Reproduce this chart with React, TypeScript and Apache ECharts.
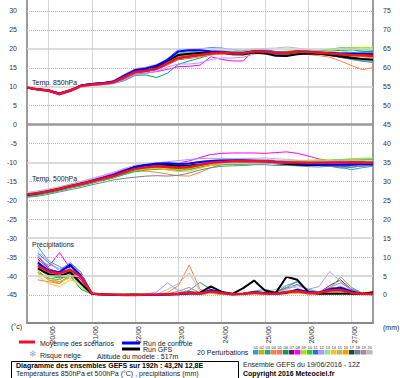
import React, { useEffect, useRef } from 'react';
import * as echarts from 'echarts';

// 6-hourly steps of the GEFS run 19/06/2016 12Z (192h)
const timeSteps = [
  '19/06 12Z', '19/06 18Z',
  '20/06 00Z', '20/06 06Z', '20/06 12Z', '20/06 18Z',
  '21/06 00Z', '21/06 06Z', '21/06 12Z', '21/06 18Z',
  '22/06 00Z', '22/06 06Z', '22/06 12Z', '22/06 18Z',
  '23/06 00Z', '23/06 06Z', '23/06 12Z', '23/06 18Z',
  '24/06 00Z', '24/06 06Z', '24/06 12Z', '24/06 18Z',
  '25/06 00Z', '25/06 06Z', '25/06 12Z', '25/06 18Z',
  '26/06 00Z', '26/06 06Z', '26/06 12Z', '26/06 18Z',
  '27/06 00Z', '27/06 06Z', '27/06 12Z',
];

const leftTicks = [30, 25, 20, 15, 10, 5, 0, -5, -10, -15, -20, -25, -30, -35, -40, -45];
const solidLevels = [20, 10, -10, -30, -40];
const panelDivider = 0;

const pertNames = ['01','02','03','04','05','06','07','08','09','10','11','12','13','14','15','16','17','18','19','20'];
const pertColors = ['#3a9fbf', '#c8b400', '#2f9f8f', '#ff7f40', '#ff7070', '#00a060', '#900090', '#ff00ff', '#99ee00', '#33cc33',
  '#3366ff', '#aa99ff', '#88ee88', '#ffbb33', '#bbbb55', '#ff9900', '#224444', '#668899', '#aa8899', '#bbbbbb'];

// Temperature 850 hPa (°C)
const t850Mean = [9.8, 9.3, 9.0, 8.1, 9.0, 10.2, 10.6, 10.8, 11.2, 12.5, 13.9, 14.2, 14.8, 16.2, 17.6, 18.0, 18.4, 18.8, 19.0, 18.8, 18.8, 19.3, 19.3, 18.9, 18.9, 19.3, 19.2, 19.0, 18.8, 18.6, 18.4, 18.3, 18.1];
const t850Control = [9.8, 9.3, 9.0, 8.2, 9.1, 10.3, 10.7, 10.9, 11.4, 12.9, 14.4, 14.8, 15.6, 17.1, 19.3, 19.6, 19.6, 19.3, 19.2, 19.0, 19.0, 19.4, 19.3, 18.8, 18.8, 19.2, 19.1, 19.0, 18.9, 18.8, 18.7, 18.7, 18.6];
const t850Gfs = [9.8, 9.3, 9.0, 8.1, 9.0, 10.3, 10.7, 10.9, 11.3, 12.7, 14.1, 14.5, 15.2, 16.7, 18.4, 18.7, 18.9, 19.0, 19.0, 18.6, 18.5, 19.0, 18.8, 18.2, 18.1, 18.6, 18.8, 18.7, 18.4, 18.0, 17.6, 17.3, 17.1];
const t850Pert = [
  [9.8, 9.4, 9.1, 8.3, 9.1, 10.3, 10.7, 11.0, 11.5, 13.0, 14.4, 14.8, 15.3, 16.8, 18.5, 18.8, 19.0, 19.2, 19.3, 19.0, 18.9, 19.4, 19.2, 18.7, 18.6, 19.0, 18.9, 18.6, 18.2, 17.8, 17.3, 16.9, 16.7],
  [9.7, 9.2, 8.9, 8.0, 8.8, 10.0, 10.5, 10.7, 11.0, 12.2, 13.6, 14.0, 14.6, 15.9, 17.2, 17.6, 18.2, 18.7, 19.1, 19.0, 19.1, 19.5, 19.6, 19.2, 19.3, 19.6, 19.4, 19.3, 19.2, 19.0, 18.8, 18.6, 18.4],
  [9.9, 9.4, 9.1, 8.2, 9.2, 10.4, 10.8, 11.0, 11.4, 12.9, 14.2, 14.6, 15.4, 16.9, 18.8, 19.2, 19.4, 19.6, 19.5, 19.1, 19.0, 19.5, 19.5, 19.0, 19.0, 19.4, 19.4, 19.2, 19.0, 18.9, 19.0, 19.2, 19.3],
  [9.8, 9.3, 9.0, 8.2, 9.1, 10.3, 10.7, 10.9, 11.3, 12.8, 14.1, 14.5, 15.0, 16.5, 18.0, 18.3, 18.6, 18.9, 19.0, 18.7, 18.6, 19.1, 19.2, 18.6, 18.4, 18.7, 18.5, 18.2, 17.8, 16.8, 15.6, 14.5, 15.0],
  [9.8, 9.3, 8.9, 8.0, 8.9, 10.1, 10.5, 10.8, 11.2, 12.4, 13.8, 14.1, 14.7, 16.0, 17.3, 17.8, 18.3, 18.8, 19.0, 18.9, 19.0, 19.4, 19.3, 18.9, 19.0, 19.5, 19.4, 19.1, 18.9, 18.7, 18.6, 18.8, 18.7],
  [9.7, 9.1, 8.8, 7.9, 8.8, 10.0, 10.4, 10.6, 10.9, 11.6, 13.0, 13.1, 12.4, 13.6, 15.9, 16.8, 17.6, 18.4, 18.8, 18.6, 18.7, 19.3, 19.4, 19.1, 19.2, 19.6, 19.5, 19.4, 19.4, 19.6, 19.7, 19.4, 19.2],
  [9.8, 9.2, 8.9, 8.0, 8.9, 10.1, 10.5, 10.7, 11.1, 12.3, 13.7, 14.0, 14.5, 15.8, 17.2, 17.5, 18.0, 18.5, 18.7, 18.5, 18.6, 19.0, 19.1, 18.7, 18.8, 19.1, 19.0, 18.8, 18.6, 18.4, 18.5, 18.9, 19.0],
  [9.7, 9.1, 8.7, 7.8, 8.7, 9.9, 10.3, 10.6, 10.9, 12.0, 13.3, 13.6, 14.0, 14.6, 15.3, 15.4, 15.7, 17.9, 17.2, 16.8, 16.8, 19.7, 19.6, 19.2, 19.1, 19.4, 19.3, 19.1, 18.9, 18.8, 18.7, 18.5, 18.4],
  [9.8, 9.3, 9.0, 8.1, 9.0, 10.2, 10.6, 10.8, 11.2, 12.6, 14.0, 14.3, 14.9, 16.3, 17.8, 18.2, 18.7, 19.2, 19.4, 19.2, 19.2, 19.6, 19.6, 19.3, 19.4, 19.7, 19.6, 19.5, 19.6, 19.9, 20.3, 20.4, 20.3],
  [9.9, 9.4, 9.1, 8.2, 9.1, 10.3, 10.7, 10.9, 11.3, 12.7, 14.0, 14.4, 15.1, 16.5, 18.1, 18.5, 18.9, 19.2, 19.4, 19.1, 19.0, 19.4, 19.4, 19.0, 19.1, 19.5, 19.5, 19.5, 19.9, 20.3, 20.2, 19.8, 19.6],
  [9.9, 9.4, 9.1, 8.3, 9.2, 10.4, 10.8, 11.0, 11.5, 13.1, 14.5, 14.9, 15.7, 17.4, 19.8, 19.9, 20.0, 20.3, 20.2, 19.8, 19.6, 19.9, 19.8, 19.3, 19.2, 19.5, 19.4, 19.1, 18.9, 18.6, 18.4, 18.2, 18.0],
  [9.7, 9.1, 8.8, 7.9, 8.8, 9.9, 10.3, 10.5, 10.8, 11.8, 13.2, 13.5, 14.1, 15.2, 16.0, 16.0, 16.3, 17.2, 17.6, 17.6, 17.8, 18.6, 19.0, 18.7, 18.8, 19.2, 19.1, 18.9, 18.7, 18.4, 18.2, 18.0, 17.8],
  [9.8, 9.3, 9.0, 8.1, 9.0, 10.2, 10.6, 10.8, 11.2, 12.5, 13.9, 14.2, 14.8, 16.1, 17.5, 17.9, 18.3, 18.7, 19.0, 18.8, 18.8, 19.2, 19.2, 18.8, 18.9, 19.3, 19.2, 19.0, 18.9, 19.1, 19.5, 20.0, 20.2],
  [9.8, 9.2, 8.9, 8.0, 8.9, 10.1, 10.5, 10.8, 11.1, 12.4, 13.8, 14.1, 14.6, 15.9, 17.3, 17.6, 18.0, 18.4, 18.6, 18.4, 18.5, 19.0, 19.2, 18.8, 18.7, 19.1, 19.0, 18.6, 18.3, 18.1, 18.0, 17.9, 17.7],
  [9.8, 9.3, 9.0, 8.1, 9.0, 10.2, 10.6, 10.9, 11.3, 12.7, 14.1, 14.4, 15.0, 16.4, 17.9, 18.2, 18.6, 19.0, 19.1, 18.9, 18.9, 19.3, 19.3, 18.8, 18.8, 19.2, 19.1, 18.9, 18.7, 18.6, 18.7, 18.9, 18.9],
  [9.8, 9.3, 8.9, 8.0, 8.9, 10.1, 10.6, 10.8, 11.2, 12.5, 13.9, 14.3, 14.9, 16.2, 17.7, 18.0, 18.4, 18.9, 19.0, 18.7, 18.6, 19.2, 19.3, 18.9, 18.8, 19.2, 19.0, 18.7, 18.5, 18.3, 18.2, 18.0, 17.6],
  [9.8, 9.3, 9.0, 8.1, 9.0, 10.2, 10.6, 10.8, 11.2, 12.5, 13.8, 14.1, 14.7, 16.0, 17.5, 17.9, 18.3, 18.8, 19.0, 18.8, 18.9, 19.4, 19.5, 19.0, 19.0, 19.4, 19.3, 19.0, 18.7, 18.3, 17.8, 17.4, 17.2],
  [9.8, 9.3, 9.0, 8.1, 9.0, 10.2, 10.6, 10.8, 11.2, 12.6, 14.0, 14.3, 15.0, 16.3, 17.7, 18.1, 18.5, 18.9, 19.1, 18.8, 18.8, 19.3, 19.4, 19.0, 19.0, 19.3, 19.1, 18.8, 18.3, 17.7, 17.2, 16.7, 16.4],
  [9.9, 9.4, 9.1, 8.2, 9.1, 10.4, 10.8, 11.0, 11.5, 13.2, 14.6, 15.1, 15.6, 17.0, 18.4, 18.6, 18.9, 19.1, 19.1, 18.8, 18.8, 19.3, 19.3, 18.9, 19.0, 19.3, 19.2, 19.0, 18.8, 18.6, 18.5, 18.4, 18.2],
  [9.9, 9.4, 9.1, 8.3, 9.2, 10.4, 10.9, 11.1, 11.6, 13.3, 14.8, 15.2, 15.9, 17.2, 18.7, 19.0, 19.3, 19.5, 19.5, 19.4, 19.6, 20.0, 20.1, 20.2, 20.5, 20.2, 19.8, 19.5, 19.2, 18.9, 18.7, 18.6, 18.5],
];

// Temperature 500 hPa (°C)
const t500Mean = [-18.5, -18.1, -17.6, -17.0, -16.3, -15.7, -15.0, -14.3, -13.6, -12.6, -11.7, -11.3, -11.0, -11.2, -11.4, -11.2, -10.6, -10.1, -9.9, -9.7, -9.7, -9.7, -9.7, -9.9, -10.0, -10.0, -10.1, -10.1, -10.1, -10.0, -10.0, -10.1, -10.1];
const t500Control = [-18.5, -18.1, -17.6, -17.0, -16.3, -15.6, -14.9, -14.1, -13.3, -12.2, -11.2, -10.7, -10.3, -10.2, -10.4, -10.3, -9.9, -9.6, -9.5, -9.5, -9.5, -9.6, -9.7, -9.9, -10.1, -10.3, -10.5, -10.6, -10.6, -10.6, -10.5, -10.5, -10.5];
const t500Gfs = [-18.6, -18.2, -17.6, -17.0, -16.3, -15.7, -15.0, -14.2, -13.4, -12.3, -11.2, -10.7, -10.4, -10.6, -10.9, -10.9, -10.4, -10.0, -9.8, -9.7, -9.8, -9.9, -10.0, -10.2, -10.4, -10.6, -10.7, -10.6, -10.4, -10.2, -10.1, -10.1, -10.2];
const t500Pert = [
  [-18.2, -17.8, -17.3, -16.7, -16.0, -15.4, -14.7, -14.0, -13.2, -12.1, -11.2, -10.9, -10.7, -10.9, -11.2, -11.0, -10.5, -10.2, -10.0, -9.9, -9.9, -9.9, -9.8, -10.0, -10.2, -10.4, -10.6, -10.8, -11.0, -11.3, -11.9, -11.4, -11.0],
  [-18.6, -18.2, -17.7, -17.1, -16.4, -15.8, -15.1, -14.4, -13.7, -12.7, -11.8, -11.4, -11.1, -11.3, -11.5, -11.3, -10.8, -10.3, -10.0, -9.8, -9.7, -9.6, -9.6, -9.8, -9.9, -9.9, -10.0, -10.0, -9.9, -9.8, -9.8, -9.9, -10.0],
  [-18.3, -17.9, -17.4, -16.8, -16.1, -15.5, -14.8, -14.1, -13.3, -12.2, -11.3, -10.9, -10.6, -10.7, -10.9, -10.8, -10.3, -9.9, -9.7, -9.5, -9.5, -9.5, -9.5, -9.7, -9.8, -9.9, -10.1, -10.3, -10.5, -10.6, -10.4, -10.2, -10.1],
  [-18.7, -18.3, -17.8, -17.2, -16.5, -15.9, -15.2, -14.5, -13.8, -12.9, -12.2, -12.3, -12.6, -13.1, -13.5, -13.6, -12.6, -11.4, -10.6, -10.2, -10.0, -9.9, -9.9, -10.1, -10.2, -10.2, -10.3, -10.3, -10.2, -10.1, -10.0, -10.1, -10.2],
  [-18.5, -18.1, -17.6, -17.0, -16.3, -15.7, -15.0, -14.3, -13.6, -12.6, -11.7, -11.3, -11.0, -11.2, -11.3, -11.1, -10.5, -10.0, -9.8, -9.6, -9.6, -9.6, -9.6, -9.8, -9.9, -9.9, -10.0, -10.0, -10.0, -9.9, -9.9, -10.0, -10.0],
  [-19.0, -18.6, -18.1, -17.5, -16.8, -16.2, -15.5, -14.8, -14.1, -13.2, -12.4, -12.0, -11.8, -11.9, -12.0, -11.8, -11.2, -10.7, -10.5, -10.4, -10.4, -10.3, -10.2, -10.2, -10.1, -10.0, -9.8, -9.6, -9.5, -9.4, -9.3, -9.2, -9.1],
  [-18.4, -18.0, -17.5, -16.9, -16.2, -15.6, -14.9, -14.2, -13.5, -12.5, -11.6, -11.2, -10.9, -11.0, -11.1, -10.9, -10.3, -9.8, -9.5, -9.3, -9.3, -9.3, -9.4, -9.6, -9.8, -10.0, -10.1, -10.0, -9.9, -9.8, -9.9, -10.0, -10.1],
  [-18.3, -17.9, -17.4, -16.7, -16.0, -15.3, -14.6, -13.8, -12.9, -11.8, -10.9, -10.5, -10.3, -10.2, -10.1, -9.6, -8.7, -7.9, -7.6, -7.5, -7.5, -7.5, -7.6, -7.4, -7.2, -7.6, -8.3, -9.1, -9.5, -9.6, -9.7, -9.8, -9.9],
  [-18.8, -18.4, -17.9, -17.3, -16.6, -16.0, -15.3, -14.6, -13.9, -12.9, -12.1, -11.8, -11.6, -11.8, -11.9, -11.6, -11.0, -10.5, -10.3, -10.1, -10.0, -9.9, -9.8, -9.7, -9.6, -9.5, -9.4, -9.3, -9.3, -9.2, -9.0, -8.9, -8.8],
  [-18.9, -18.5, -18.0, -17.4, -16.7, -16.1, -15.4, -14.7, -14.0, -13.1, -12.3, -11.9, -11.7, -11.9, -12.1, -11.9, -11.3, -10.8, -10.6, -10.5, -10.5, -10.4, -10.3, -10.2, -10.1, -10.0, -9.8, -9.6, -9.5, -9.3, -9.2, -9.2, -9.3],
  [-18.6, -18.2, -17.7, -17.1, -16.4, -15.7, -15.0, -14.3, -13.5, -12.4, -11.4, -10.9, -10.5, -10.5, -10.6, -10.3, -9.8, -9.5, -9.4, -9.4, -9.5, -9.6, -9.7, -9.9, -10.1, -10.2, -10.4, -10.6, -10.8, -11.0, -11.2, -11.0, -10.8],
  [-18.2, -17.8, -17.2, -16.5, -15.8, -15.1, -14.3, -13.5, -12.6, -11.6, -10.8, -10.4, -10.1, -9.8, -9.5, -9.2, -9.0, -8.9, -8.9, -9.0, -9.0, -9.1, -9.2, -9.4, -9.6, -9.8, -10.0, -10.1, -10.2, -10.2, -10.1, -10.1, -10.2],
  [-18.5, -18.1, -17.6, -17.0, -16.3, -15.7, -15.0, -14.3, -13.6, -12.6, -11.8, -11.4, -11.2, -11.4, -11.6, -11.4, -10.8, -10.3, -10.1, -9.9, -9.9, -9.8, -9.8, -9.9, -9.9, -9.8, -9.7, -9.6, -9.5, -9.4, -9.4, -9.5, -9.6],
  [-18.7, -18.3, -17.8, -17.2, -16.5, -15.9, -15.2, -14.5, -13.8, -12.8, -12.0, -11.7, -11.6, -12.0, -12.4, -12.3, -11.5, -10.8, -10.4, -10.2, -10.1, -10.1, -10.0, -10.1, -10.1, -10.2, -10.2, -10.2, -10.1, -10.1, -10.0, -10.0, -10.1],
  [-18.4, -18.0, -17.5, -16.9, -16.2, -15.6, -14.9, -14.2, -13.5, -12.5, -11.6, -11.2, -10.9, -11.1, -11.3, -11.1, -10.6, -10.1, -9.9, -9.7, -9.7, -9.7, -9.8, -10.0, -10.1, -10.1, -10.2, -10.2, -10.1, -10.0, -10.0, -10.1, -10.1],
  [-18.6, -18.2, -17.7, -17.1, -16.4, -15.8, -15.1, -14.4, -13.7, -12.7, -11.9, -11.5, -11.3, -11.5, -11.7, -11.5, -10.9, -10.4, -10.1, -9.9, -9.9, -9.9, -9.9, -10.0, -10.1, -10.2, -10.3, -10.3, -10.3, -10.4, -10.5, -10.5, -10.4],
  [-18.5, -18.1, -17.6, -17.0, -16.3, -15.7, -15.0, -14.3, -13.6, -12.6, -11.7, -11.3, -11.0, -11.2, -11.4, -11.2, -10.7, -10.2, -10.0, -9.8, -9.8, -9.8, -9.8, -10.0, -10.2, -10.4, -10.6, -10.8, -10.9, -10.9, -10.8, -10.6, -10.5],
  [-19.2, -18.9, -18.4, -17.8, -17.2, -16.6, -15.9, -15.3, -14.6, -14.2, -13.9, -13.6, -13.5, -13.6, -13.4, -12.8, -12.0, -11.4, -11.0, -10.9, -10.8, -10.6, -10.6, -10.8, -10.8, -10.9, -11.1, -11.2, -11.0, -11.5, -11.3, -10.9, -10.7],
  [-18.4, -18.0, -17.5, -16.9, -16.2, -15.6, -14.9, -14.2, -13.5, -12.5, -11.6, -11.2, -11.0, -11.1, -11.3, -11.1, -10.5, -10.0, -9.8, -9.6, -9.6, -9.6, -9.6, -9.8, -9.9, -10.0, -10.0, -10.0, -9.9, -9.8, -9.7, -9.7, -9.8],
  [-17.9, -17.5, -17.0, -16.4, -15.7, -15.0, -14.2, -13.4, -12.6, -11.6, -10.8, -10.4, -10.2, -10.3, -10.5, -10.3, -9.8, -9.4, -9.2, -9.0, -8.9, -8.9, -8.8, -9.0, -9.2, -9.4, -9.6, -9.6, -9.5, -9.4, -9.3, -9.1, -9.0],
];

// 6h precipitation (mm), right axis
const precipMean = [null, 7.7, 6.2, 5.7, 6.6, 4.8, 0.4, 0.1, 0.1, 0.0, 0.0, 0.1, 0.1, 0.2, 0.3, 0.6, 0.4, 0.9, 0.5, 0.2, 0.3, 0.6, 0.4, 0.3, 0.8, 1.0, 0.5, 0.5, 1.2, 1.3, 0.6, 0.3, 0.3];
const precipControl = [null, 8.5, 6.5, 6.0, 8.0, 5.0, 0.3, 0.1, 0.0, 0.0, 0.0, 0.0, 0.0, 0.1, 0.2, 0.4, 0.4, 1.3, 0.6, 0.2, 0.3, 0.8, 0.5, 0.3, 0.6, 1.4, 0.8, 0.6, 1.5, 1.9, 1.0, 0.3, 0.2];
const precipGfs = [null, 7.0, 5.5, 5.0, 6.0, 3.0, 0.3, 0.1, 0.0, 0.0, 0.0, 0.0, 0.0, 0.1, 0.3, 0.6, 0.6, 2.3, 0.8, 0.3, 1.8, 3.8, 1.2, 0.5, 4.8, 4.0, 0.8, 0.3, 0.3, 0.3, 0.3, 0.3, 0.7];
const precipPert = [
  [null, 12.8, 9.0, 7.5, 6.0, 3.5, 0.5, 0.1, 0.0, 0.0, 0.0, 0.0, 0.0, 0.0, 0.3, 1.0, 0.2, 0.5, 0.2, 0.0, 0.2, 0.8, 0.5, 0.6, 2.5, 3.5, 1.0, 0.5, 1.5, 2.2, 0.8, 0.2, 0.3],
  [null, 8.0, 6.0, 5.5, 7.0, 5.5, 0.3, 0.0, 0.1, 0.0, 0.0, 0.1, 0.1, 0.1, 0.2, 0.4, 0.3, 1.0, 0.4, 0.1, 0.2, 0.5, 0.3, 0.2, 0.5, 0.8, 0.4, 0.3, 0.8, 1.0, 0.5, 0.2, 0.2],
  [null, 9.0, 5.5, 4.5, 6.5, 4.0, 0.2, 0.0, 0.0, 0.0, 0.0, 0.0, 0.1, 0.2, 0.5, 1.2, 3.3, 1.5, 0.5, 0.2, 0.4, 1.0, 1.5, 0.8, 2.0, 3.6, 1.2, 0.4, 1.0, 1.2, 0.4, 0.2, 0.2],
  [null, 4.0, 3.5, 3.0, 5.0, 3.5, 0.5, 0.2, 0.1, 0.0, 0.0, 0.0, 0.1, 0.6, 2.5, 7.9, 1.5, 0.4, 0.2, 0.1, 0.1, 0.3, 0.2, 0.1, 0.3, 0.5, 0.3, 0.2, 0.5, 0.8, 0.3, 0.1, 0.1],
  [null, 6.5, 4.0, 3.0, 5.5, 4.5, 0.3, 0.1, 0.0, 0.0, 0.0, 0.0, 0.0, 0.1, 0.2, 0.5, 0.3, 0.8, 0.6, 0.2, 0.3, 0.5, 0.2, 0.2, 0.4, 0.7, 0.4, 0.3, 1.2, 1.5, 0.6, 0.2, 0.1],
  [null, 7.0, 5.0, 4.5, 5.0, 1.5, 0.2, 0.3, 0.2, 0.3, 0.4, 0.2, 0.1, 0.1, 0.2, 0.4, 0.2, 0.6, 0.3, 0.1, 0.2, 0.4, 0.3, 0.2, 0.5, 0.9, 0.4, 0.3, 0.9, 1.1, 0.4, 0.2, 0.2],
  [null, 9.5, 7.0, 5.0, 6.0, 4.0, 0.4, 0.1, 0.0, 0.0, 0.0, 0.1, 0.0, 0.1, 0.1, 0.3, 0.2, 0.5, 0.3, 0.1, 0.3, 0.6, 0.4, 0.3, 0.6, 1.0, 0.5, 0.6, 2.5, 4.0, 1.5, 0.4, 0.2],
  [null, 10.0, 7.5, 11.2, 7.0, 4.0, 0.4, 0.1, 0.0, 0.0, 0.0, 0.0, 0.0, 0.1, 0.2, 0.4, 0.3, 0.8, 0.5, 0.2, 0.3, 0.6, 0.4, 0.2, 0.5, 0.8, 0.5, 0.4, 1.0, 1.8, 0.6, 0.2, 0.2],
  [null, 5.5, 4.5, 3.5, 4.5, 2.0, 0.3, 0.1, 0.1, 0.1, 0.0, 0.0, 0.1, 0.1, 0.1, 0.3, 0.2, 0.4, 0.2, 0.1, 0.2, 0.4, 0.5, 0.6, 1.0, 1.2, 0.5, 0.3, 0.7, 0.9, 0.3, 0.1, 0.1],
  [null, 6.0, 4.5, 4.0, 5.5, 2.5, 0.2, 0.1, 0.0, 0.0, 0.0, 0.0, 0.1, 0.1, 0.2, 0.5, 0.3, 0.7, 0.4, 0.2, 0.3, 0.5, 0.3, 0.4, 0.8, 1.1, 0.5, 0.6, 1.5, 4.8, 2.0, 0.5, 0.2],
  [null, 11.0, 8.5, 6.5, 8.5, 6.0, 0.5, 0.1, 0.0, 0.0, 0.0, 0.0, 0.1, 0.1, 0.2, 0.4, 0.3, 1.0, 0.6, 0.2, 0.3, 0.7, 0.5, 0.3, 0.6, 1.0, 0.5, 0.7, 1.8, 2.0, 0.9, 0.3, 0.2],
  [null, 9.0, 8.0, 7.0, 8.0, 5.5, 0.4, 0.1, 0.0, 0.0, 0.0, 0.2, 0.8, 3.2, 1.2, 0.4, 0.3, 1.2, 0.8, 0.3, 0.4, 0.8, 0.6, 0.5, 1.5, 2.5, 1.5, 2.2, 6.2, 3.5, 1.2, 0.4, 0.3],
  [null, 7.5, 5.0, 5.0, 6.0, 3.0, 0.3, 0.1, 0.1, 0.0, 0.0, 0.0, 0.0, 0.1, 0.2, 0.4, 0.2, 0.6, 0.4, 0.2, 0.2, 0.4, 0.3, 0.2, 0.4, 0.6, 0.4, 0.3, 0.8, 1.0, 0.4, 0.2, 0.2],
  [null, 5.0, 3.0, 2.2, 4.0, 3.0, 0.2, 0.1, 0.0, 0.0, 0.0, 0.0, 0.0, 0.1, 0.2, 0.4, 0.3, 0.6, 0.3, 0.1, 0.2, 0.4, 0.3, 0.2, 0.4, 0.7, 0.3, 0.2, 0.6, 0.8, 0.3, 0.1, 0.1],
  [null, 8.5, 6.5, 5.5, 7.0, 5.0, 0.4, 0.1, 0.0, 0.0, 0.0, 0.0, 0.0, 0.1, 0.2, 0.5, 0.3, 0.8, 0.5, 0.2, 0.3, 0.6, 0.4, 0.3, 0.5, 0.8, 0.4, 0.5, 1.5, 2.2, 0.8, 0.3, 0.2],
  [null, 6.0, 4.0, 3.5, 5.0, 3.5, 0.3, 0.1, 0.0, 0.0, 0.0, 0.0, 0.0, 0.1, 0.2, 0.5, 0.3, 0.7, 0.4, 0.2, 0.2, 0.5, 0.3, 0.2, 0.4, 0.6, 0.3, 0.3, 0.9, 1.2, 0.4, 0.2, 0.1],
  [null, 8.0, 6.5, 6.0, 7.5, 5.0, 0.4, 0.1, 0.0, 0.0, 0.0, 0.0, 0.0, 0.1, 0.2, 0.4, 0.3, 0.9, 0.5, 0.2, 0.3, 0.7, 0.4, 0.3, 0.7, 1.1, 0.6, 0.5, 1.4, 1.6, 0.6, 0.3, 0.2],
  [null, 10.5, 7.0, 6.0, 7.0, 4.5, 0.4, 0.1, 0.0, 0.0, 0.0, 0.0, 0.0, 0.2, 0.4, 0.8, 0.5, 1.2, 0.8, 0.3, 0.4, 0.8, 0.6, 0.8, 1.8, 2.8, 1.5, 0.8, 1.8, 2.0, 0.9, 0.3, 0.3],
  [null, 9.0, 6.0, 4.5, 6.0, 3.5, 0.3, 0.1, 0.0, 0.0, 0.0, 0.0, 0.1, 0.3, 1.0, 2.0, 0.5, 0.8, 0.5, 0.2, 0.3, 0.6, 0.4, 0.4, 0.8, 1.5, 0.8, 0.8, 2.0, 3.2, 1.6, 0.5, 0.3],
  [null, 11.5, 9.0, 6.5, 7.0, 4.5, 0.4, 0.1, 0.0, 0.0, 0.0, 0.0, 0.1, 1.5, 3.0, 5.8, 1.0, 0.6, 0.4, 0.2, 0.3, 0.6, 0.8, 1.5, 2.6, 1.8, 0.8, 0.5, 1.2, 2.4, 1.2, 0.5, 0.4],
];

const FONT = '"Liberation Sans", Arial, sans-serif';
const MEAN_COLOR = '#f0102a';
const CONTROL_COLOR = '#0000ff';
const GFS_COLOR = '#000000';

function lineSeries(name: string, data: (number | null)[], color: string, width: number, z: number, yAxisIndex = 0) {
  return {
    name, type: 'line', data, yAxisIndex, z, silent: true,
    showSymbol: false, symbol: 'none',
    lineStyle: { color, width },
    itemStyle: { color },
    animation: false,
  };
}

function buildOption() {
  const series: any[] = [];
  const gridLineData = leftTicks.map((v) => {
    let lineStyle: any = { color: '#b4b4b4', width: 1, type: 'dotted' };
    if (v === panelDivider) lineStyle = { color: '#9a9a9a', width: 2.5, type: 'solid' };
    else if (solidLevels.indexOf(v) >= 0) lineStyle = { color: '#cfcfcf', width: 1.5, type: 'solid' };
    return { yAxis: v, lineStyle };
  });
  series.push({
    name: 'grid', type: 'line', data: timeSteps.map(() => null), z: 1, silent: true, symbol: 'none',
    markLine: { silent: true, symbol: ['none', 'none'], label: { show: false }, animation: false, data: gridLineData },
  });
  const groups = [
    { pert: t850Pert, mean: t850Mean, ctl: t850Control, gfs: t850Gfs, axis: 0, key: 't850' },
    { pert: t500Pert, mean: t500Mean, ctl: t500Control, gfs: t500Gfs, axis: 0, key: 't500' },
    { pert: precipPert, mean: precipMean, ctl: precipControl, gfs: precipGfs, axis: 1, key: 'rr' },
  ];
  groups.forEach((g) => {
    g.pert.forEach((arr, i) => series.push(lineSeries(g.key + '-' + pertNames[i], arr, pertColors[i], 1, 3, g.axis)));
    series.push(lineSeries(g.key + '-gfs', g.gfs, GFS_COLOR, 2, 4, g.axis));
    series.push(lineSeries(g.key + '-ctl', g.ctl, CONTROL_COLOR, 2, 5, g.axis));
    series.push(lineSeries(g.key + '-mean', g.mean, MEAN_COLOR, 2.5, 6, g.axis));
  });

  const txt = (text: string, x: number, y: number, size = 7, weight: any = 'normal', fill = '#222', align = 'left') => ({
    type: 'text', x, y, silent: true, z: 50,
    style: { text, fontSize: size, fontFamily: FONT, fontWeight: weight, fill, align, verticalAlign: 'middle' },
  });
  const seg = (x1: number, y1: number, x2: number, y2: number, stroke: string, w: number) => ({
    type: 'line', silent: true, z: 50, shape: { x1, y1, x2, y2 }, style: { stroke, lineWidth: w },
  });

  const graphics: any[] = [
    txt('Temp. 850hPa', 32, 82),
    txt('Temp. 500hPa', 32, 178),
    txt('Précipitations', 32, 244),
    txt('(°c)', 11, 326),
    txt('(mm)', 383, 327),
    seg(19, 342, 35, 342, MEAN_COLOR, 3),
    txt('Moyenne des scénarios', 40, 343),
    seg(122, 343, 140, 343, CONTROL_COLOR, 3),
    txt('Run de controle', 143, 343),
    seg(122, 349, 140, 349, GFS_COLOR, 3),
    txt('Run GFS', 143, 349),
    txt('❄', 29, 354, 9, 'normal', '#7aaee0'),
    txt('Risque neige', 40, 355),
    txt('Altitude du modele : 517m', 97, 356),
    txt('20 Perturbations', 197, 352),
    {
      type: 'rect', silent: true, z: 50, shape: { x: 11.5, y: 361.5, width: 227, height: 30 },
      style: { fill: 'none', stroke: '#000', lineWidth: 1 },
    },
    txt('Diagramme des ensembles GEFS sur 192h : 43,2N 12,8E', 16, 365, 7, 'bold', '#000'),
    txt('Températures 850hPa et 500hPa (°C) , précipitations (mm)', 16, 373, 7),
    txt('Ensemble GEFS du 19/06/2016 - 12Z', 243, 364, 7),
    txt('Copyright 2016 Meteociel.fr', 243, 373, 7, 'bold', '#000'),
  ];
  pertNames.forEach((n, i) => {
    const x = 253 + i * 6;
    graphics.push(txt(n, x + 2.7, 347, 4, 'normal', '#333', 'center'));
    graphics.push({
      type: 'rect', silent: true, z: 50, shape: { x, y: 350, width: 5.5, height: 4.5 },
      style: { fill: pertColors[i] },
    });
  });

  const axisLabelBase = { fontSize: 7, fontFamily: FONT, color: '#333' };

  return {
    animation: false,
    backgroundColor: '#ffffff',
    textStyle: { fontFamily: FONT },
    grid: { left: 27, right: 27, top: 0, bottom: 55, containLabel: false },
    xAxis: {
      type: 'category', data: timeSteps, boundaryGap: false,
      axisLine: { show: true, onZero: false, lineStyle: { color: '#8a8a8a', width: 2 } },
      axisTick: { show: false },
      splitLine: {
        show: true,
        interval: (_i: number, v: string) => v.endsWith('00Z'),
        lineStyle: { color: '#d6d6d6', width: 1 },
      },
      axisLabel: {
        ...axisLabelBase, rotate: 90, margin: 3, interval: 0, verticalAlign: 'top',
        formatter: (v: string) => (v.endsWith('00Z') ? v.slice(0, 5) : ''),
      },
    },
    yAxis: [
      {
        type: 'value', position: 'left', min: -52.4, max: 32.9, minInterval: 5, maxInterval: 5, splitNumber: 17,
        axisLine: { show: true, lineStyle: { color: '#7a7a7a', width: 1.5 } },
        axisTick: { show: false }, splitLine: { show: false },
        axisLabel: {
          ...axisLabelBase, margin: 10, showMinLabel: false, showMaxLabel: false,
          formatter: (v: number) => (v < -45 || v > 30 || v % 5 !== 0 ? '' : String(v)),
        },
      },
      {
        type: 'value', position: 'right', min: -7.4, max: 77.9, minInterval: 5, maxInterval: 5, splitNumber: 17,
        axisLine: { show: true, lineStyle: { color: '#7a7a7a', width: 1.5 } },
        axisTick: { show: false }, splitLine: { show: false },
        axisLabel: {
          ...axisLabelBase, margin: 10, showMinLabel: false, showMaxLabel: false,
          formatter: (v: number) => (v < 0 || v > 75 || v % 5 !== 0 ? '' : String(v)),
        },
      },
    ],
    series,
    graphic: graphics,
  };
}

export default function App() {
  const ref = useRef<HTMLDivElement>(null);
  useEffect(() => {
    document.body.style.margin = '0';
    if (!ref.current) return;
    const chart = echarts.init(ref.current, null as any, { renderer: 'svg' });
    chart.setOption(buildOption() as any);
    return () => chart.dispose();
  }, []);
  return <div ref={ref} style={{ position: 'fixed', left: 0, top: 0, width: 400, height: 378, background: '#fff' }} />;
}
